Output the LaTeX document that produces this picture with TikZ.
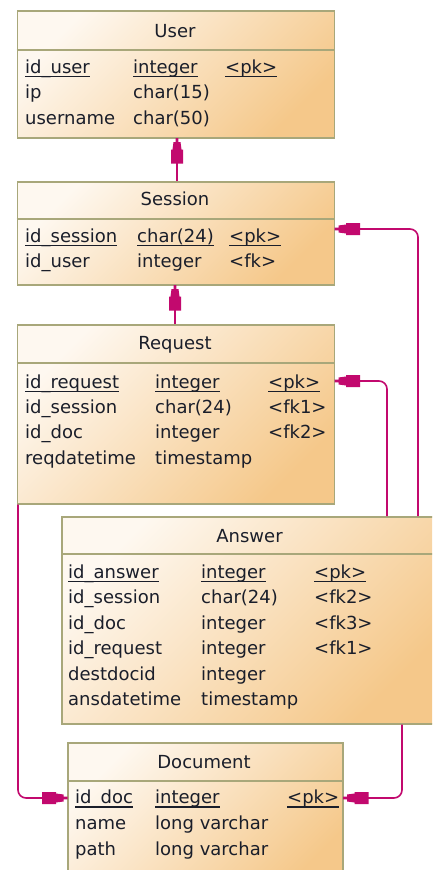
\documentclass[tikz,border=0pt]{standalone}
\usepackage{fontspec}
\setmainfont{DejaVu Sans}
\usetikzlibrary{arrows.meta}
\definecolor{bordercol}{HTML}{A8A77A}
\definecolor{lightcol}{HTML}{FEF8F0}
\definecolor{darkcol}{HTML}{F5C88A}
\definecolor{linkcol}{HTML}{C2096E}
\definecolor{txtcol}{HTML}{1A1E2A}
\newcommand\ulk[1]{\setbox0\hbox{#1}\rlap{\rule[-4pt]{\wd0}{1.5pt}}\box0}
\pgfdeclarearrow{
  name = FKTip,
  setup code = {
    \pgfarrowssettipend{0pt}
    \pgfarrowssetlineend{-12pt}
    \pgfarrowssetbackend{-25pt}
  },
  drawing code = {
    \pgfpathmoveto{\pgfpoint{0.5pt}{1.4pt}}
    \pgfpathlineto{\pgfpoint{-3.5pt}{1.4pt}}
    \pgfpathlineto{\pgfpoint{-3.5pt}{3.5pt}}
    \pgfpathlineto{\pgfpoint{-11pt}{4.5pt}}
    \pgfpathlineto{\pgfpoint{-11pt}{6pt}}
    \pgfpathlineto{\pgfpoint{-25pt}{6pt}}
    \pgfpathlineto{\pgfpoint{-25pt}{-6pt}}
    \pgfpathlineto{\pgfpoint{-11pt}{-6pt}}
    \pgfpathlineto{\pgfpoint{-11pt}{-4.5pt}}
    \pgfpathlineto{\pgfpoint{-3.5pt}{-3.5pt}}
    \pgfpathlineto{\pgfpoint{-3.5pt}{-1.4pt}}
    \pgfpathlineto{\pgfpoint{0.5pt}{-1.4pt}}
    \pgfpathclose
    \pgfusepathqfill
  }
}
\tikzset{
  tbl/.style={draw=bordercol, line width=1.5pt, top color=lightcol, bottom color=darkcol, shading angle=45, anchor=north west, inner sep=0pt},
  sep/.style={draw=bordercol, line width=1.5pt},
  txt/.style={anchor=base west, inner sep=0pt, text=txtcol, font=\fontsize{18}{20}\selectfont},
  hdr/.style={anchor=base, inner sep=0pt, text=txtcol, font=\fontsize{18}{20}\selectfont},
  fk/.style={draw=linkcol, line width=1.6pt, -FKTip, rounded corners=8pt},
}
\begin{document}
\begin{tikzpicture}[x=1pt,y=-1pt]
\path[use as bounding box] (0,0) rectangle (432,870);
\clip (0,0) rectangle (432,870);
\fill[white] (0,0) rectangle (432,870);

% User
\node[tbl, minimum width=317pt, minimum height=127pt] (user) at (16.5,10) {};
\draw[sep] (user.north west) ++(0,40) coordinate (usl) -- (usl -| user.east);
\node[hdr] (userT) at (175,37) {User};
\node[txt] (u1a) at (25,73) {\ulk{id\_user}};
\node[txt] (u1b) at (133,73) {\ulk{integer}};
\node[txt] (u1c) at (225,73) {\ulk{<pk>}};
\node[txt] (u2a) at (25,98.5) {ip};
\node[txt] (u2b) at (133,98.5) {char(15)};
\node[txt] (u3a) at (25,124) {username};
\node[txt] (u3b) at (133,124) {char(50)};

% Session
\node[tbl, minimum width=317pt, minimum height=103pt] (session) at (16.5,181) {};
\draw[sep] (session.north west) ++(0,38) coordinate (ssl) -- (ssl -| session.east);
\node[hdr] (sessionT) at (175,205) {Session};
\node[txt] (s1a) at (25,242) {\ulk{id\_session}};
\node[txt] (s1b) at (137,242) {\ulk{char(24)}};
\node[txt] (s1c) at (229,242) {\ulk{<pk>}};
\node[txt] (s2a) at (25,267) {id\_user};
\node[txt] (s2b) at (137,267) {integer};
\node[txt] (s2c) at (229,267) {<fk>};

% Request
\node[tbl, minimum width=317pt, minimum height=179pt] (request) at (16.5,324) {};
\draw[sep] (request.north west) ++(0,39) coordinate (rsl) -- (rsl -| request.east);
\node[hdr] (requestT) at (175,349) {Request};
\node[txt] (r1a) at (25,388) {\ulk{id\_request}};
\node[txt] (r1b) at (155,388) {\ulk{integer}};
\node[txt] (r1c) at (268,388) {\ulk{<pk>}};
\node[txt] (r2a) at (25,413.3) {id\_session};
\node[txt] (r2b) at (155,413.3) {char(24)};
\node[txt] (r2c) at (268,413.3) {<fk1>};
\node[txt] (r3a) at (25,438.6) {id\_doc};
\node[txt] (r3b) at (155,438.6) {integer};
\node[txt] (r3c) at (268,438.6) {<fk2>};
\node[txt] (r4a) at (25,464) {reqdatetime};
\node[txt] (r4b) at (155,464) {timestamp};

% Answer
\node[tbl, minimum width=377pt, minimum height=207pt] (answer) at (61,516) {};
\draw[sep] (answer.north west) ++(0,38) coordinate (asl) -- (asl -| answer.east);
\node[hdr] (answerT) at (249.5,542) {Answer};
\node[txt] (a1a) at (68,578) {\ulk{id\_answer}};
\node[txt] (a1b) at (201,578) {\ulk{integer}};
\node[txt] (a1c) at (314,578) {\ulk{<pk>}};
\node[txt] (a2a) at (68,603.5) {id\_session};
\node[txt] (a2b) at (201,603.5) {char(24)};
\node[txt] (a2c) at (314,603.5) {<fk2>};
\node[txt] (a3a) at (68,629) {id\_doc};
\node[txt] (a3b) at (201,629) {integer};
\node[txt] (a3c) at (314,629) {<fk3>};
\node[txt] (a4a) at (68,654.5) {id\_request};
\node[txt] (a4b) at (201,654.5) {integer};
\node[txt] (a4c) at (314,654.5) {<fk1>};
\node[txt] (a5a) at (68,680) {destdocid};
\node[txt] (a5b) at (201,680) {integer};
\node[txt] (a6a) at (68,705.5) {ansdatetime};
\node[txt] (a6b) at (201,705.5) {timestamp};

% Document
\node[tbl, minimum width=275pt, minimum height=150pt] (doc) at (67,742) {};
\draw[sep] (doc.north west) ++(0,39) coordinate (dsl) -- (dsl -| doc.east);
\node[hdr] (docT) at (204,768) {Document};
\node[txt] (d1a) at (75,803.5) {\ulk{id\_doc}};
\node[txt] (d1b) at (155,803.5) {\ulk{integer}};
\node[txt] (d1c) at (287,803.5) {\ulk{<pk>}};
\node[txt] (d2a) at (75,829) {name};
\node[txt] (d2b) at (155,829) {long varchar};
\node[txt] (d3a) at (75,855) {path};
\node[txt] (d3b) at (155,855) {long varchar};

% Connectors
\draw[fk] (session.north -| 177,0) -- (user.south -| 177,0);
\draw[fk] (request.north -| 175,0) -- (session.south -| 175,0);
\draw[fk] (answer.north -| 418,0) |- (session.east |- 0,229);
\draw[fk] (answer.north -| 387,0) |- (request.east |- 0,381);
\draw[fk] (request.south -| 18,0) |- (doc.west |- 0,798);
\draw[fk] (answer.south -| 402,0) |- (doc.east |- 0,798);
\end{tikzpicture}
\end{document}
